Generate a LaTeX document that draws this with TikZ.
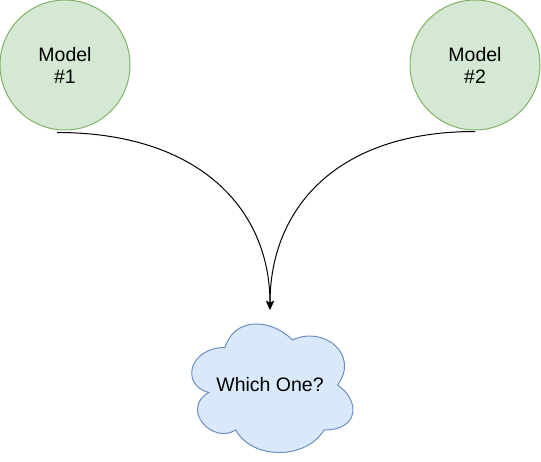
\documentclass[tikz,border=0pt]{standalone}
\usepackage{fontspec}
\setmainfont{Liberation Sans}
\usetikzlibrary{arrows.meta}
\definecolor{gfill}{HTML}{D5E8D4}
\definecolor{gline}{HTML}{82B366}
\definecolor{bfill}{HTML}{DAE8FC}
\definecolor{bline}{HTML}{6C8EBF}
\tikzset{
  model/.style={circle, draw=gline, fill=gfill, line width=1pt, minimum size=130pt, inner sep=0pt, align=center, font=\fontsize{19.5}{22}\selectfont},
  cloudlbl/.style={draw=none, minimum width=180pt, minimum height=150pt, inner sep=0pt, font=\fontsize{19.5}{22}\selectfont},
  link/.style={line width=1pt, -{Stealth[length=9pt,width=8pt,inset=2pt]}}
}
\begin{document}
\begin{tikzpicture}[x=1pt,y=-1pt]
\useasboundingbox (0,0) rectangle (541,461);
\node[model] (m1) at (65,65) {Model\\\#1};
\node[model] (m2) at (475,65) {Model\\\#2};
% cloud (draw.io cloud shape in box 180,310 w180 h150)
\begin{scope}[shift={(180,310)}, x=180pt, y=-150pt]
\filldraw[draw=bline, fill=bfill, line width=1pt]
  (0.25,0.25) .. controls (0.05,0.25) and (0,0.5) .. (0.16,0.55)
  .. controls (0,0.66) and (0.18,0.9) .. (0.31,0.8)
  .. controls (0.4,1) and (0.7,1) .. (0.8,0.8)
  .. controls (1,0.8) and (1,0.6) .. (0.875,0.5)
  .. controls (1,0.3) and (0.8,0.1) .. (0.625,0.2)
  .. controls (0.5,0.05) and (0.3,0.05) .. (0.25,0.25) -- cycle;
\end{scope}
\node[cloudlbl] (c) at (270,385) {Which One?};
\coordinate (s1) at ([xshift=-8pt,yshift=-2pt]m1.south);
\coordinate (s2) at ([yshift=-1pt]m2.south);
\draw[link] (s1) .. controls ++(143,0) and ++(0,-100) .. (c.north);
\draw[link] (s2) .. controls ++(-140,0) and ++(0,-100) .. (c.north);
\end{tikzpicture}
\end{document}
